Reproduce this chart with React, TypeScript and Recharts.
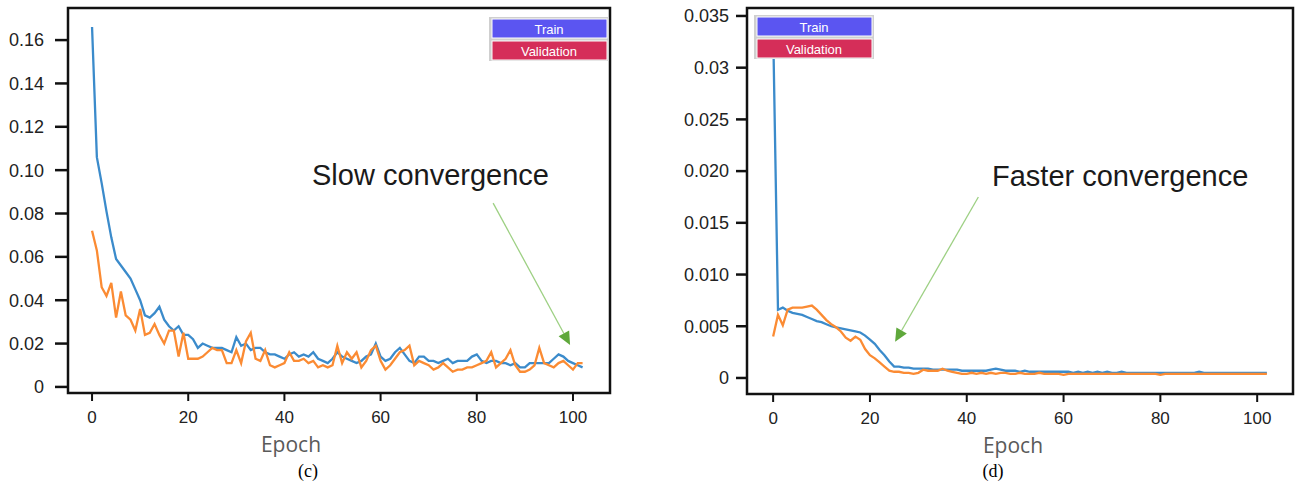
import React from "react";
import { LineChart, Line, XAxis, YAxis, ReferenceArea, ReferenceLine, Label } from "recharts";

// epochs 0..102 shared by both panels
const epochs = Array.from({ length: 103 }, (_, i) => i);
const xTicks = [0, 20, 40, 60, 80, 100];

// (c) slow convergence
const slowTrain = [
  0.166, 0.106, 0.094, 0.081, 0.069, 0.059, 0.056, 0.053, 0.05, 0.045,
  0.04, 0.033, 0.032, 0.034, 0.037, 0.031, 0.028, 0.026, 0.028, 0.024,
  0.024, 0.022, 0.018, 0.02, 0.019, 0.018, 0.018, 0.018, 0.017, 0.016,
  0.023, 0.019, 0.02, 0.017, 0.018, 0.018, 0.016, 0.015, 0.015, 0.014,
  0.013, 0.015, 0.016, 0.014, 0.015, 0.014, 0.016, 0.013, 0.012, 0.011,
  0.013, 0.016, 0.014, 0.013, 0.012, 0.011, 0.012, 0.014, 0.015, 0.02,
  0.014, 0.012, 0.013, 0.016, 0.018, 0.015, 0.012, 0.011, 0.014, 0.014,
  0.012, 0.012, 0.011, 0.012, 0.013, 0.011, 0.012, 0.012, 0.012, 0.014,
  0.015, 0.012, 0.011, 0.012, 0.012, 0.011, 0.011, 0.01, 0.011, 0.009,
  0.009, 0.011, 0.011, 0.011, 0.011, 0.011, 0.013, 0.015, 0.014, 0.012,
  0.011, 0.01, 0.009,
];
const slowVal = [
  0.072, 0.063, 0.046, 0.042, 0.048, 0.032, 0.044, 0.033, 0.031, 0.026,
  0.036, 0.024, 0.025, 0.029, 0.024, 0.02, 0.026, 0.026, 0.014, 0.025,
  0.013, 0.013, 0.013, 0.014, 0.016, 0.018, 0.017, 0.017, 0.011, 0.011,
  0.017, 0.011, 0.021, 0.025, 0.013, 0.012, 0.017, 0.01, 0.009, 0.01,
  0.011, 0.016, 0.012, 0.012, 0.013, 0.011, 0.012, 0.009, 0.01, 0.009,
  0.01, 0.019, 0.011, 0.016, 0.013, 0.016, 0.009, 0.012, 0.017, 0.019,
  0.012, 0.008, 0.01, 0.013, 0.016, 0.017, 0.019, 0.01, 0.012, 0.011,
  0.01, 0.008, 0.009, 0.011, 0.009, 0.007, 0.008, 0.008, 0.009, 0.009,
  0.01, 0.011, 0.012, 0.016, 0.009, 0.011, 0.013, 0.017, 0.01, 0.007,
  0.007, 0.008, 0.01, 0.018, 0.011, 0.01, 0.009, 0.011, 0.012, 0.01,
  0.008, 0.011, 0.011,
];
const slowYTicks = [0, 0.02, 0.04, 0.06, 0.08, 0.1, 0.12, 0.14, 0.16];
const slowYLabels = ["0", "0.02", "0.04", "0.06", "0.08", "0.10", "0.12", "0.14", "0.16"];

// (d) faster convergence
const fastTrain = [
  0.0338, 0.0066, 0.0068, 0.0065, 0.0063, 0.0062, 0.0061, 0.0059, 0.0057, 0.0055,
  0.0054, 0.0052, 0.005, 0.0049, 0.0048, 0.0047, 0.0046, 0.0045, 0.0044, 0.0041,
  0.0037, 0.0033, 0.0027, 0.0022, 0.0016, 0.0011, 0.0011, 0.001, 0.001, 0.0009,
  0.0009, 0.0009, 0.0009, 0.0008, 0.0008, 0.0008, 0.0008, 0.0008, 0.0008, 0.0007,
  0.0007, 0.0007, 0.0007, 0.0007, 0.0007, 0.0008, 0.0009, 0.0008, 0.0007, 0.0007,
  0.0007, 0.0006, 0.0007, 0.0006, 0.0006, 0.0006, 0.0006, 0.0006, 0.0006, 0.0006,
  0.0006, 0.0006, 0.0005, 0.0006, 0.0005, 0.0006, 0.0005, 0.0006, 0.0005, 0.0006,
  0.0005, 0.0005, 0.0006, 0.0005, 0.0005, 0.0005, 0.0005, 0.0005, 0.0005, 0.0005,
  0.0005, 0.0005, 0.0005, 0.0005, 0.0005, 0.0005, 0.0005, 0.0005, 0.0006, 0.0005,
  0.0005, 0.0005, 0.0005, 0.0005, 0.0005, 0.0005, 0.0005, 0.0005, 0.0005, 0.0005,
  0.0005, 0.0005, 0.0005,
];
const fastVal = [
  0.004, 0.0061, 0.0051, 0.0066, 0.0068, 0.0068, 0.0068, 0.0069, 0.007, 0.0066,
  0.0061, 0.0056, 0.0052, 0.0049, 0.0045, 0.0039, 0.0036, 0.004, 0.0037, 0.0028,
  0.0022, 0.0019, 0.0015, 0.0011, 0.0007, 0.0006, 0.0006, 0.0005, 0.0005, 0.0004,
  0.0005, 0.0008, 0.0007, 0.0007, 0.0007, 0.0009, 0.0007, 0.0006, 0.0005, 0.0004,
  0.0004, 0.0005, 0.0004, 0.0005, 0.0004, 0.0005, 0.0004, 0.0005, 0.0005, 0.0004,
  0.0004, 0.0005, 0.0004, 0.0004, 0.0004, 0.0005, 0.0004, 0.0004, 0.0004, 0.0004,
  0.0003, 0.0004, 0.0004, 0.0004, 0.0004, 0.0004, 0.0004, 0.0004, 0.0004, 0.0004,
  0.0004, 0.0004, 0.0004, 0.0004, 0.0004, 0.0004, 0.0004, 0.0004, 0.0004, 0.0004,
  0.0003, 0.0004, 0.0004, 0.0004, 0.0004, 0.0004, 0.0004, 0.0004, 0.0004, 0.0004,
  0.0004, 0.0004, 0.0004, 0.0004, 0.0004, 0.0004, 0.0004, 0.0004, 0.0004, 0.0004,
  0.0004, 0.0004, 0.0004,
];
const fastYTicks = [0, 0.005, 0.01, 0.015, 0.02, 0.025, 0.03, 0.035];
const fastYLabels = ["0", "0.005", "0.010", "0.015", "0.020", "0.025", "0.03", "0.035"];

const seriesNames = ["Train", "Validation"];

const TRAIN_COLOR = "#3b8bcb";
const VAL_COLOR = "#fb8b33";
const INK = "#111";
const SANS = "'Liberation Sans', Arial, sans-serif";

const slowData = epochs.map((e, i) => ({ epoch: e, train: slowTrain[i], val: slowVal[i] }));
const fastData = epochs.map((e, i) => ({ epoch: e, train: fastTrain[i], val: fastVal[i] }));

function Arrow(props: any) {
  const { x1, y1, x2, y2 } = props;
  const dx = x2 - x1;
  const dy = y2 - y1;
  const len = Math.hypot(dx, dy) || 1;
  const ux = dx / len;
  const uy = dy / len;
  const bx = x2 - ux * 13;
  const by = y2 - uy * 13;
  const px = -uy * 6;
  const py = ux * 6;
  return (
    <g>
      <line x1={x1} y1={y1} x2={bx} y2={by} stroke="#9dd083" strokeWidth={1.3} />
      <polygon points={`${x2},${y2} ${bx + px},${by + py} ${bx - px},${by - py}`} fill="#5fa83b" />
    </g>
  );
}

function Panel(props: any) {
  const { data, margin, xDomain, yDomain, yTicks, yLabels, yTickSize, yTickMargin, arrow, epochDx } = props;
  return (
    <LineChart width={640} height={484} data={data} margin={margin}>
      <XAxis
        dataKey="epoch"
        type="number"
        domain={xDomain}
        ticks={xTicks}
        allowDataOverflow
        height={61}
        tickSize={8}
        tickMargin={10}
        axisLine={false}
        tickLine={{ stroke: INK, strokeWidth: 2 }}
        tick={{ fill: "#222", fontSize: 17, fontFamily: SANS }}
      >
        <Label
          value="Epoch"
          position="insideBottom"
          offset={2}
          dx={epochDx}
          style={{ fill: "#5a5a5a", fontSize: 21, fontFamily: "'Open Sans', sans-serif" }}
        />
      </XAxis>
      <YAxis
        type="number"
        domain={yDomain}
        ticks={yTicks}
        allowDataOverflow
        width={60}
        tickSize={yTickSize}
        tickMargin={yTickMargin}
        axisLine={false}
        tickLine={{ stroke: INK, strokeWidth: 2.5 }}
        tick={{ fill: "#222", fontSize: 18, fontFamily: SANS }}
        tickFormatter={(_v: number, i: number) => yLabels[i]}
      />
      <Line type="linear" dataKey="train" name={seriesNames[0]} stroke={TRAIN_COLOR} strokeWidth={2.3} dot={false} isAnimationActive={false} />
      <Line type="linear" dataKey="val" name={seriesNames[1]} stroke={VAL_COLOR} strokeWidth={2.3} dot={false} isAnimationActive={false} />
      <ReferenceLine segment={arrow} ifOverflow="visible" shape={Arrow} />
      <ReferenceArea
        x1={xDomain[0]}
        x2={xDomain[1]}
        y1={yDomain[0]}
        y2={yDomain[1]}
        ifOverflow="visible"
        fill="none"
        stroke={INK}
        strokeWidth={2.5}
      />
    </LineChart>
  );
}

function LegendBox({ x, y }: { x: number; y: number }) {
  return (
    <g fontFamily={SANS} fontSize={13} fill="#fff" textAnchor="middle">
      <rect x={x - 3} y={y - 2} width={120} height={44} fill="#cfcfcf" />
      <rect x={x} y={y} width={115} height={19} fill="#5b55f1" stroke="#fff" strokeWidth={1} />
      <rect x={x} y={y + 22} width={115} height={19} fill="#d52e59" stroke="#fff" strokeWidth={1} />
      <text x={x + 57} y={y + 14.5}>{seriesNames[0]}</text>
      <text x={x + 57} y={y + 36.5}>{seriesNames[1]}</text>
    </g>
  );
}

export default function App() {
  return (
    <div style={{ position: "absolute", left: 0, top: 0, width: 1295, height: 484, background: "#fff" }}>
      <div style={{ position: "absolute", left: 0, top: 0 }}>
        <Panel
          data={slowData}
          margin={{ top: 8, right: 30, bottom: 30, left: 8 }}
          xDomain={[-5, 107.7]}
          yDomain={[-0.0028, 0.1748]}
          yTicks={slowYTicks}
          yLabels={slowYLabels}
          yTickSize={13}
          yTickMargin={11}
          arrow={[{ x: 83.4, y: 0.0848 }, { x: 99.4, y: 0.0194 }]}
          epochDx={-48}
        />
      </div>
      <div style={{ position: "absolute", left: 655, top: 0 }}>
        <Panel
          data={fastData}
          margin={{ top: 8, right: 2, bottom: 29, left: 32 }}
          xDomain={[-5.4, 107.4]}
          yDomain={[-0.00155, 0.03577]}
          yTicks={fastYTicks}
          yLabels={fastYLabels}
          yTickSize={11}
          yTickMargin={7}
          arrow={[{ x: 42.4, y: 0.0175 }, { x: 25.2, y: 0.0035 }]}
          epochDx={-7}
        />
      </div>
      <svg width={1295} height={484} style={{ position: "absolute", left: 0, top: 0, pointerEvents: "none" }}>
        <LegendBox x={492} y={19} />
        <LegendBox x={757} y={17} />
        <text x={312} y={185} fontFamily={SANS} fontSize={29} fill="#1a1a1a">Slow convergence</text>
        <text x={992} y={186} fontFamily={SANS} fontSize={29} fill="#1a1a1a">Faster convergence</text>
        <text x={308} y={477} fontFamily="'Liberation Serif', serif" fontSize={18} fill="#000" textAnchor="middle">(c)</text>
        <text x={993} y={477} fontFamily="'Liberation Serif', serif" fontSize={18} fill="#000" textAnchor="middle">(d)</text>
      </svg>
    </div>
  );
}
